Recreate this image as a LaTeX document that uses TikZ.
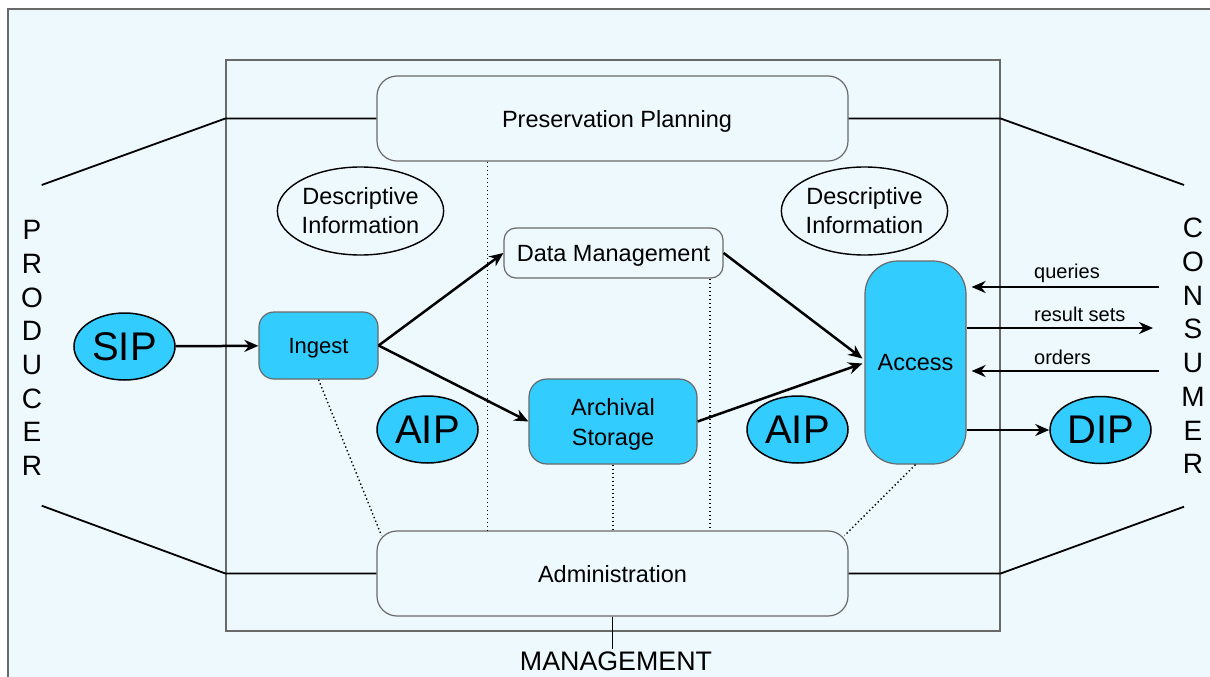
\documentclass[tikz,border=0pt]{standalone}
\usepackage{fontspec}
\setmainfont{Liberation Sans}
\usetikzlibrary{arrows.meta,calc,shapes,positioning}
\definecolor{bgcyan}{RGB}{238,249,253}
\definecolor{pkgblue}{RGB}{51,204,255}
\definecolor{framegray}{RGB}{105,105,105}
\tikzstyle{funcbox}=[rectangle,rounded corners=15pt,draw=framegray,line width=1.2pt,fill=pkgblue,inner sep=0pt,text depth=0pt,align=center,font=\fontsize{23.5}{30}\selectfont]
\tikzstyle{mgmtbox}=[rectangle,rounded corners=20pt,draw=framegray,line width=1.2pt,fill=bgcyan,inner sep=0pt,text depth=0pt,minimum width=471pt,minimum height=85pt,font=\fontsize{23.5}{28}\selectfont]
\tikzstyle{pkg}=[ellipse,draw=black,line width=1.5pt,fill=pkgblue,inner sep=0pt,minimum width=101pt,minimum height=67pt,font=\fontsize{40}{40}\selectfont]
\tikzstyle{descinfo}=[ellipse,draw=black,line width=1.4pt,inner sep=0pt,minimum width=153pt,minimum height=88pt,align=center,font=\fontsize{23.5}{29}\selectfont]
\tikzstyle{side}=[align=center,inner sep=0pt,font=\fontsize{28}{33.7}\selectfont]
\tikzstyle{lbl}=[anchor=west,inner sep=0pt,font=\fontsize{20}{24}\selectfont]

\begin{document}
\begin{tikzpicture}[x=1pt,y=-1pt,>={Stealth[length=14pt,width=12pt]}]
    \tikzstyle{flow}=[->,line width=2.5pt]
    \tikzstyle{link}=[line width=1.8pt]
    \tikzstyle{dotlink}=[line width=1.4pt,dash pattern=on 1.4pt off 2.6pt]

    \useasboundingbox (0,0) rectangle (1210,677);
    \fill[white] (0,0) rectangle (1210,677);
    \draw[framegray,fill=bgcyan,line width=1.2pt] (8,9) rectangle (1230,700);

    \node[draw=framegray,line width=1.3pt,minimum width=774pt,minimum height=571pt] (oais) at (613,345.5) {};

    \node[mgmtbox] (pp) at (612.5,118.5) {\hspace*{9pt}Preservation Planning};
    \node[mgmtbox] (admin) at (612.5,573.5) {Administration};

    \node[descinfo] (dil) at (360.5,211) {Descriptive\\Information};
    \node[descinfo] (dir) at (864.5,211) {Descriptive\\Information};

    \node[funcbox,rounded corners=12pt,fill=bgcyan,minimum width=219pt,minimum height=50pt] (dm) at (613.5,253) {Data Management};
    \node[funcbox,minimum width=119pt,minimum height=67pt,font=\fontsize{22}{26}\selectfont] (ingest) at (318.5,345.5) {Ingest};
    \node[funcbox,rounded corners=18pt,minimum width=168pt,minimum height=85pt] (arch) at (613,421.5) {Archival\\Storage};
    \node[funcbox,rounded corners=33pt,minimum width=101pt,minimum height=203pt] (access) at (915.5,362.5) {Access};

    \node[pkg] (sip) at (124.5,346.5) {SIP};
    \node[pkg] (aipl) at (427.5,429.5) {AIP};
    \node[pkg] (aipr) at (797.5,429.5) {AIP};
    \node[pkg] (dip) at (1100.5,430) {DIP};

    \node[side] (producer) at (32,348) {P\\R\\O\\D\\U\\C\\E\\R};
    \node[side] (consumer) at (1193,346) {C\\O\\N\\S\\U\\M\\E\\R};
    \node[inner sep=2pt,font=\fontsize{26.8}{30}\selectfont] (mgmt) at (616,661) {MANAGEMENT};

    \coordinate (pt) at (41.7,185);
    \coordinate (pb) at (41.7,505.7);
    \coordinate (ct) at (1184,185);
    \coordinate (cb) at (1184,506.7);
    \draw[link] (pt) -- (oais.west |- pp.west) -- (pp.west);
    \draw[link] (pb) -- (oais.west |- admin.west) -- (admin.west);
    \draw[link] (pp.east) -- (oais.east |- pp.east) -- (ct);
    \draw[link] (admin.east) -- (oais.east |- admin.east) -- (cb);
    \draw[link] (admin.south) -- (admin.south |- mgmt.north);

    \coordinate (dl) at (487.3,0);
    \coordinate (dr) at (710,0);
    \draw[dotlink] (dl |- pp.south) -- (dl |- admin.north);
    \draw[dotlink] (dr |- dm.south) -- (dr |- admin.north);
    \draw[dotlink] (arch.south) -- (arch.south |- admin.north);
    \draw[dotlink] (ingest.south) -- ($(admin.north west)+(5,5)$);
    \draw[dotlink] (access.south) -- ($(admin.north east)+(-4,5)$);

    \draw[flow] (sip) -- (ingest);
    \draw[flow] (ingest.east) -- (dm.west);
    \draw[flow] (ingest.east) -- (arch.west);
    \draw[flow] (dm.east) -- ($(access.west)+(-2,-4)$);
    \draw[flow] (arch.east) -- ($(access.west)+(-2,1)$);

    \coordinate (qsrc) at (1159,287);
    \coordinate (rdst) at (1153,328);
    \coordinate (osrc) at (1159,371);
    \draw[flow,shorten >=5pt] (qsrc) -- (qsrc -| access.east);
    \draw[flow] (access.east |- rdst) -- (rdst);
    \draw[flow,shorten >=5pt] (osrc) -- (osrc -| access.east);
    \draw[flow] (access.east |- dip.west) -- (dip.west);
    \node[lbl] (qlbl) at (1034,273) {queries};
    \node[lbl] (rlbl) at (1034,314) {result sets};
    \node[lbl] (olbl) at (1034,357) {orders};
\end{tikzpicture}
\end{document}
